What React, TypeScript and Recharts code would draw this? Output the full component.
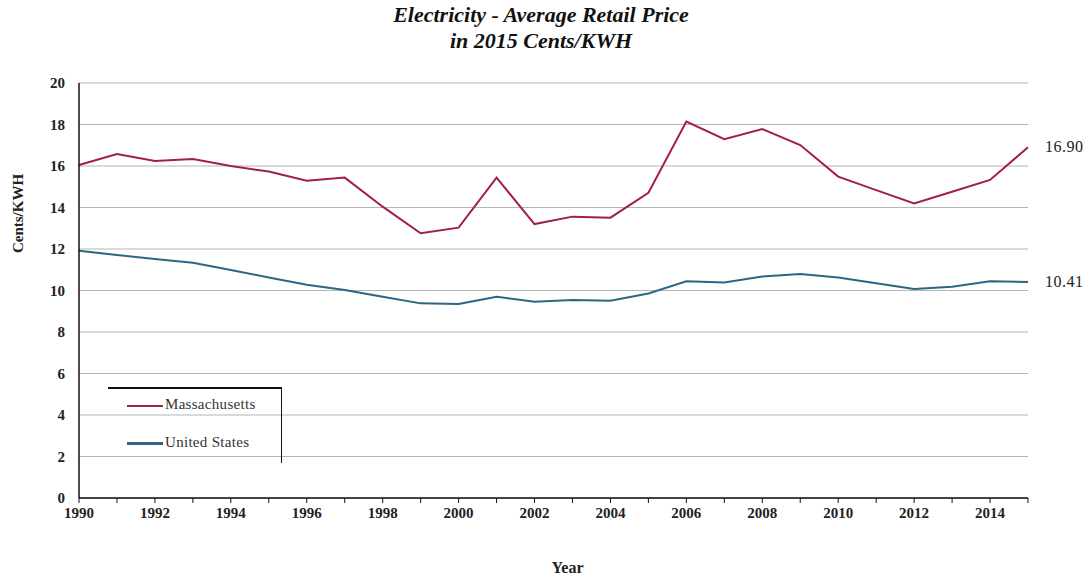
import React from "react";
import { LineChart, Line, XAxis, YAxis, CartesianGrid } from "recharts";

const years = [1990, 1991, 1992, 1993, 1994, 1995, 1996, 1997, 1998, 1999, 2000, 2001, 2002, 2003, 2004, 2005, 2006, 2007, 2008, 2009, 2010, 2011, 2012, 2013, 2014, 2015];
const massachusetts = [16.05, 16.58, 16.24, 16.34, 16.0, 15.73, 15.29, 15.44, 14.04, 12.76, 13.03, 15.44, 13.2, 13.56, 13.51, 14.71, 18.14, 17.29, 17.78, 17.01, 15.49, 14.84, 14.2, 14.76, 15.33, 16.9];
const unitedStates = [11.92, 11.71, 11.52, 11.34, 10.99, 10.63, 10.28, 10.02, 9.7, 9.38, 9.35, 9.7, 9.46, 9.54, 9.51, 9.86, 10.44, 10.39, 10.67, 10.8, 10.63, 10.35, 10.07, 10.18, 10.44, 10.41];
const yTicks = [0, 2, 4, 6, 8, 10, 12, 14, 16, 18, 20];
const seriesNames = ["Massachusetts", "United States"];

const data = years.map((y, i) => ({ year: y, ma: massachusetts[i], us: unitedStates[i] }));

const MA_COLOR = "#a3203f";
const US_COLOR = "#2d6584";
const FONT = '"Liberation Serif", "DejaVu Serif", serif';

const endLabel = (props: any) => {
  const { x, y, index, value } = props;
  if (index !== years.length - 1) return null;
  return (
    <text x={x + 17} y={y + 5} fontFamily={FONT} fontSize={16} letterSpacing={0.5} fill="#222">
      {Number(value).toFixed(2)}
    </text>
  );
};

const LegendBox = () => (
  <div style={{ position: "absolute", left: 108, top: 387, width: 174, height: 76, fontFamily: FONT, fontSize: 15, color: "#333" }}>
    <div style={{ position: "absolute", left: 0, top: 0, width: 174, height: 1.5, background: "#111" }} />
    <div style={{ position: "absolute", right: 0, top: 0, width: 1.5, height: 76, background: "#111" }} />
    <div style={{ position: "absolute", left: 19, top: 18, width: 36, height: 1.5, background: MA_COLOR }} />
    <div style={{ position: "absolute", left: 57, top: 9, whiteSpace: "nowrap", letterSpacing: 0.3 }}>{seriesNames[0]}</div>
    <div style={{ position: "absolute", left: 19, top: 55, width: 36, height: 3, background: US_COLOR }} />
    <div style={{ position: "absolute", left: 57, top: 47, whiteSpace: "nowrap", letterSpacing: 0.3 }}>{seriesNames[1]}</div>
  </div>
);

export default function App() {
  return (
    <div style={{ position: "absolute", left: 0, top: 0, width: 1089, height: 579, background: "#fff" }}>
      <div
        style={{
          position: "absolute",
          left: 0,
          width: 1082,
          top: 2,
          textAlign: "center",
          fontFamily: FONT,
          fontWeight: "bold",
          fontStyle: "italic",
          fontSize: 22,
          lineHeight: "26px",
          color: "#111",
        }}
      >
        Electricity - Average Retail Price
        <br />
        in 2015 Cents/KWH
      </div>
      <LineChart
        width={1089}
        height={579}
        data={data}
        margin={{ top: 83, right: 61, bottom: 0, left: 0 }}
        style={{ position: "absolute", left: 0, top: 0 }}
      >
        <CartesianGrid vertical={false} stroke="#b5b5b5" strokeWidth={1} />
        <XAxis
          dataKey="year"
          type="number"
          domain={[1990, 2015]}
          ticks={years}
          interval={0}
          tickFormatter={(v: number) => (v % 2 === 0 && v < 2015 ? String(v) : "")}
          tick={{ fontFamily: FONT, fontSize: 15, fontWeight: "bold", fill: "#222" }}
          tickSize={5}
          tickMargin={4}
          axisLine={{ stroke: "#111", strokeWidth: 1.5 }}
          tickLine={{ stroke: "#111" }}
          label={{ value: "Year", position: "insideBottom", offset: 6, dx: 14, style: { fontFamily: FONT, fontSize: 16, fontWeight: "bold", fill: "#222" } }}
          height={81}
        />
        <XAxis xAxisId="top" orientation="top" dataKey="year" type="number" domain={[1990, 2015]} tick={false} tickLine={false} axisLine={{ stroke: "#111", strokeWidth: 1.5 }} height={0} />
        <YAxis
          type="number"
          domain={[0, 20]}
          ticks={yTicks}
          interval={0}
          width={79}
          tick={{ fontFamily: FONT, fontSize: 15, fontWeight: "bold", fill: "#222" }}
          tickSize={0}
          tickMargin={14}
          axisLine={{ stroke: "#111", strokeWidth: 1.5 }}
          label={{ value: "Cents/KWH", angle: -90, position: "insideLeft", offset: 0, dx: 18, dy: -77, style: { fontFamily: FONT, fontSize: 15, fontWeight: "bold", fill: "#222", textAnchor: "middle" } }}
        />
        <YAxis yAxisId="right" orientation="right" domain={[0, 20]} tick={false} tickLine={false} axisLine={{ stroke: "#111", strokeWidth: 1.5 }} width={0} />
        <Line
          type="linear"
          dataKey="ma"
          name={seriesNames[0]}
          stroke={MA_COLOR}
          strokeWidth={2}
          dot={false}
          isAnimationActive={false}
          label={endLabel}
        />
        <Line
          type="linear"
          dataKey="us"
          name={seriesNames[1]}
          stroke={US_COLOR}
          strokeWidth={2}
          dot={false}
          isAnimationActive={false}
          label={endLabel}
        />
      </LineChart>
      <LegendBox />
    </div>
  );
}
